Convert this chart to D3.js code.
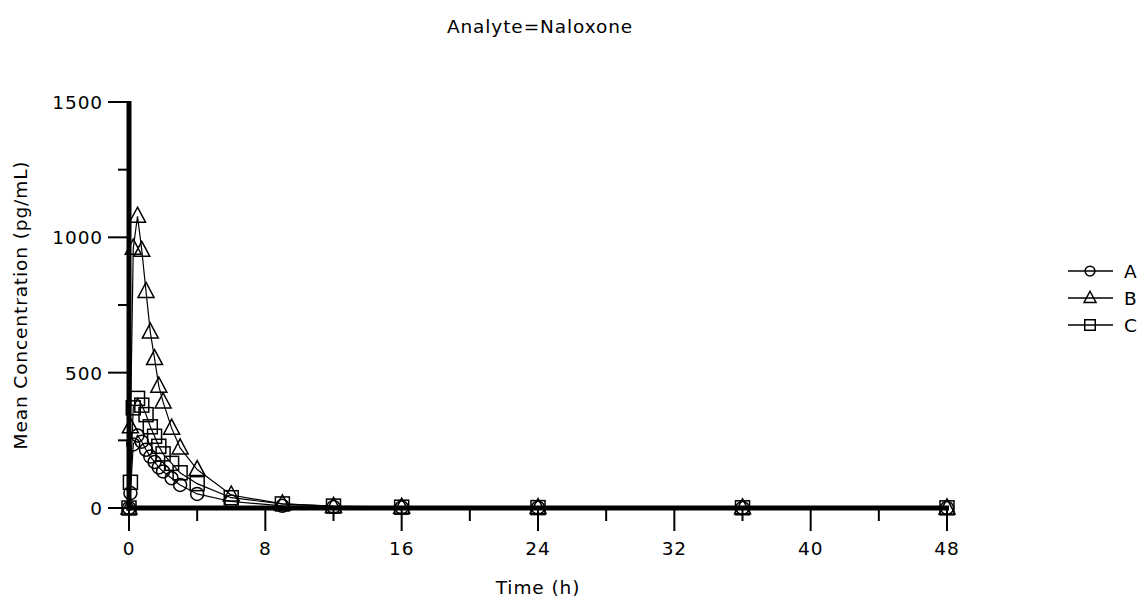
<!DOCTYPE html>
<html>
<head>
<meta charset="utf-8">
<script src="https://cdn.jsdelivr.net/npm/d3@7"></script>
<style>
  body { margin: 0; background: #fff; }
  svg { display: block; }
  text { font-family: "DejaVu Sans", Verdana, sans-serif; fill: #000; }
</style>
</head>
<body>
<svg id="chart" width="1141" height="597"></svg>
<script>
// Nominal sampling times (h)
const times = [0, 0.083, 0.25, 0.5, 0.75, 1, 1.25, 1.5, 1.75, 2, 2.5, 3, 4, 6, 9, 12, 16, 24, 36, 48];

// Mean naloxone concentration (pg/mL) per treatment
const seriesA = [0, 55, 235, 268, 245, 215, 190, 170, 150, 135, 110, 85, 52, 24, 8, 4, 2, 1, 0.4, 0.2];
const seriesB = [0, 300, 960, 1078, 952, 800, 650, 552, 450, 392, 295, 222, 142, 48, 15, 6, 3, 1.5, 0.6, 0.3];
const seriesC = [0, 95, 370, 405, 380, 345, 300, 265, 228, 200, 165, 130, 90, 38, 15, 7, 3, 1.5, 0.8, 0.5];

const seriesNames = ["A", "B", "C"];
const seriesSymbols = ["circle", "triangle", "square"];

const xTicks = [0, 8, 16, 24, 32, 40, 48];
const xMinorTicks = [4, 12, 20, 28, 36, 44];
const yTicks = [0, 500, 1000, 1500];
const yMinorTicks = [250, 750, 1250];

const title = "Analyte=Naloxone";
const xTitle = "Time (h)";
const yTitle = "Mean Concentration (pg/mL)";

const svg = d3.select("#chart");
const x = d3.scaleLinear().domain([0, 48]).range([129, 947]);
const y = d3.scaleLinear().domain([0, 1500]).range([508, 102]);

const series = [seriesA, seriesB, seriesC].map((vals, i) => ({
  name: seriesNames[i],
  symbol: seriesSymbols[i],
  points: times.map((t, j) => ({ t, v: vals[j] }))
}));

// Marker shapes, centred on (0,0)
function marker(sel, kind, s = 1) {
  if (kind === "circle") {
    sel.append("circle").attr("r", 6.5 * s);
  } else if (kind === "triangle") {
    sel.append("path").attr("d", `M0,${-9 * s} L${8 * s},${6 * s} L${-8 * s},${6 * s} Z`);
  } else {
    sel.append("rect").attr("x", -7 * s).attr("y", -7 * s).attr("width", 14 * s).attr("height", 14 * s);
  }
  sel.selectAll("circle,path,rect")
    .attr("fill", "none").attr("stroke", "#000").attr("stroke-width", 1.5);
}

const labelFont = sel => sel.attr("font-size", 18.5).attr("letter-spacing", 0.9);

// Title and axis titles
svg.append("text").attr("x", 540).attr("y", 33).attr("text-anchor", "middle")
  .call(labelFont).text(title);
svg.append("text").attr("x", 538).attr("y", 594).attr("text-anchor", "middle")
  .call(labelFont).text(xTitle);
svg.append("text").attr("transform", "translate(27,305) rotate(-90)")
  .attr("text-anchor", "middle").call(labelFont).text(yTitle);

// Series lines and markers
const line = d3.line().x(d => x(d.t)).y(d => y(d.v));
const g = svg.append("g");
series.forEach(s => {
  g.append("path").datum(s.points).attr("d", line)
    .attr("fill", "none").attr("stroke", "#000").attr("stroke-width", 1.2);
});
series.forEach(s => {
  g.selectAll(null).data(s.points).enter().append("g")
    .attr("transform", d => `translate(${x(d.t)},${y(d.v)})`)
    .each(function () { marker(d3.select(this), s.symbol); });
});

// Axes
const axes = svg.append("g");
axes.append("line").attr("x1", x(0)).attr("x2", x(0)).attr("y1", y(1500) - 1).attr("y2", y(0) + 2.5)
  .attr("stroke", "#000").attr("stroke-width", 5);
axes.append("line").attr("x1", x(0) - 2.5).attr("x2", x(48) + 2).attr("y1", y(0)).attr("y2", y(0))
  .attr("stroke", "#000").attr("stroke-width", 5);

yTicks.forEach(v => {
  axes.append("line").attr("x1", x(0) - 21).attr("x2", x(0)).attr("y1", y(v)).attr("y2", y(v))
    .attr("stroke", "#000").attr("stroke-width", 2);
  axes.append("text").attr("x", x(0) - 26).attr("y", y(v) + 7).attr("text-anchor", "end")
    .call(labelFont).text(v);
});
yMinorTicks.forEach(v => {
  axes.append("line").attr("x1", x(0) - 11).attr("x2", x(0)).attr("y1", y(v)).attr("y2", y(v))
    .attr("stroke", "#000").attr("stroke-width", 2);
});
xTicks.forEach(v => {
  axes.append("line").attr("x1", x(v)).attr("x2", x(v)).attr("y1", y(0)).attr("y2", y(0) + 23)
    .attr("stroke", "#000").attr("stroke-width", 2);
  axes.append("text").attr("x", x(v)).attr("y", 555).attr("text-anchor", "middle")
    .call(labelFont).text(v);
});
xMinorTicks.forEach(v => {
  axes.append("line").attr("x1", x(v)).attr("x2", x(v)).attr("y1", y(0)).attr("y2", y(0) + 13)
    .attr("stroke", "#000").attr("stroke-width", 2);
});

// Legend
const legend = svg.append("g");
series.forEach((s, i) => {
  const ly = 271 + i * 27;
  const row = legend.append("g");
  row.append("line").attr("x1", 1068).attr("x2", 1113).attr("y1", ly).attr("y2", ly)
    .attr("stroke", "#000").attr("stroke-width", 1.5);
  const m = row.append("g").attr("transform", `translate(1090,${ly})`);
  marker(m, s.symbol, 0.75);
  row.append("text").attr("x", 1124).attr("y", ly + 7).call(labelFont).text(s.name);
});
</script>
</body>
</html>
